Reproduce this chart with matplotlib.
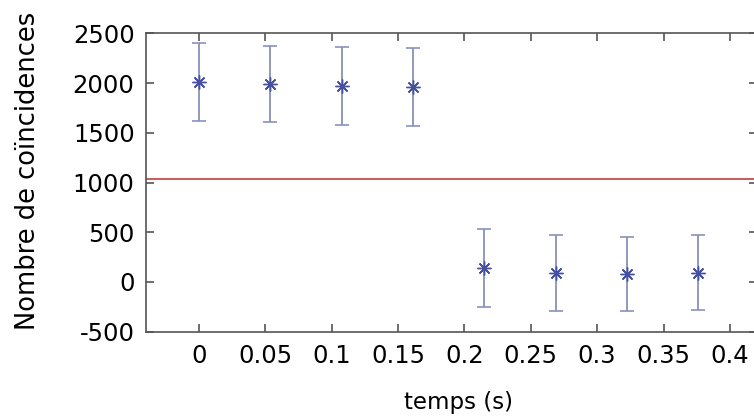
import matplotlib
matplotlib.use("Agg")
import matplotlib.pyplot as plt

# Data
temps = [0.0, 0.0538, 0.1075, 0.1613, 0.215, 0.2688, 0.3225, 0.3763]
coincidences = [2010, 1990, 1972, 1960, 144, 90, 80, 94]
erreurs = [395, 385, 394, 390, 392, 380, 372, 380]
seuil = 1035
xticks = [0, 0.05, 0.1, 0.15, 0.2, 0.25, 0.3, 0.35, 0.4]
xticklabels = ["0", "0.05", "0.1", "0.15", "0.2", "0.25", "0.3", "0.35", "0.4"]
yticks = [-500, 0, 500, 1000, 1500, 2000, 2500]
yticklabels = ["-500", "0", "500", "1000", "1500", "2000", "2500"]

plt.rcParams['font.family'] = ['DejaVu Sans']

fig = plt.figure(figsize=(7.54, 4.17), dpi=100)
W, H = 754, 417
left, right, top, bottom = 145.7, 756.5, 33.3, 331.7
ax = fig.add_axes([left / W, 1 - bottom / H, (right - left) / W, (bottom - top) / H])

ax.axhline(seuil, color='#c46262', lw=1.5, zorder=1)
ax.errorbar(temps, coincidences, yerr=erreurs, fmt='none', ecolor='#8891bb',
            elinewidth=1.3, capsize=5, capthick=1.2, zorder=2)
ax.plot(temps, coincidences, linestyle='none', marker=(8, 2, 0), markersize=10,
        color='#4650a0', markeredgewidth=1.0, zorder=3)

ax.set_xlim(-0.04, 0.42)
ax.set_ylim(-500, 2500)
ax.set_xticks(xticks)
ax.set_xticklabels(xticklabels)
ax.set_yticks(yticks)
ax.set_yticklabels(yticklabels)

ax.tick_params(direction='in', length=6, width=1.2, color='#555555',
               labelsize=17.5, top=True, right=True, pad=8)
ax.tick_params(axis='x', pad=9)
for s in ax.spines.values():
    s.set_color('#555555')
    s.set_linewidth(1.2)

ax.set_xlabel('temps (s)', fontsize=16.5)
ax.xaxis.set_label_coords((458 - left) / (right - left), 1 - (402 - top) / (bottom - top))
ax.set_ylabel('Nombre de coïncidences', fontsize=18.5)
ax.yaxis.set_label_coords((28 - left) / (right - left), 1 - (171 - top) / (bottom - top))
ax.xaxis.label.set_verticalalignment('center')
ax.yaxis.label.set_verticalalignment('center')

fig.savefig('out.png', dpi=100)
